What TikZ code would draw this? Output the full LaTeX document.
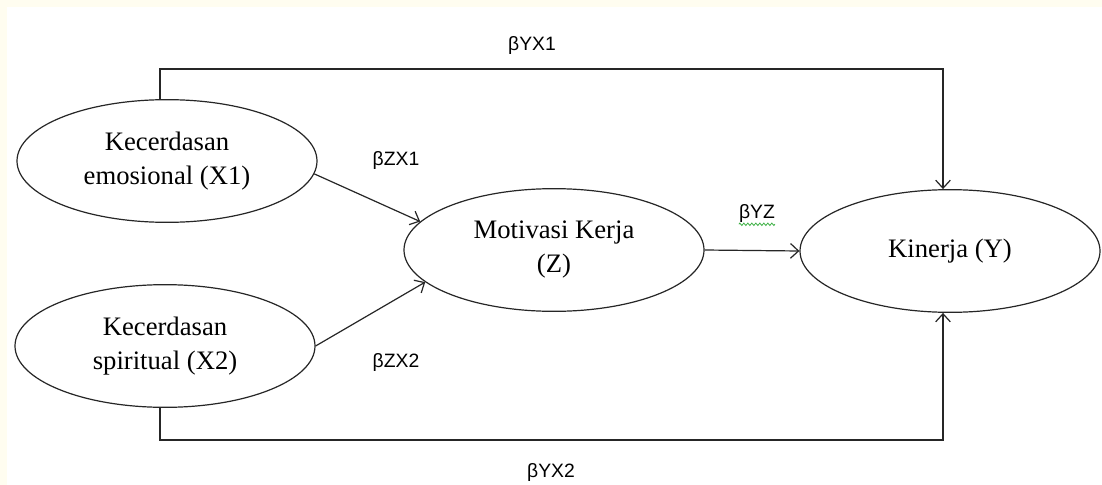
\documentclass[tikz,border=0pt]{standalone}
\usepackage{fontspec}
\setmainfont{Liberation Serif}
\newfontfamily\labelfont{Liberation Sans}
\usetikzlibrary{arrows.meta,decorations.pathmorphing,shapes.geometric}
\definecolor{cream}{HTML}{FFFDF0}
\definecolor{spell}{HTML}{3CB043}
\begin{document}
\begin{tikzpicture}[x=0.75pt,y=-0.75pt,
  var/.style={draw=black!85,line width=0.9pt,ellipse,minimum width=225pt,minimum height=92pt,
    inner sep=0pt,align=center,font=\fontsize{20}{25.5}\selectfont},
  link/.style={draw=black!85,line width=0.9pt},
  arr/.style={link,-{Straight Barb[length=6pt,width=11pt,line width=0.9pt]}},
  coef/.style={font=\labelfont\fontsize{14.5}{16}\selectfont,inner sep=0pt}]
\useasboundingbox (0,0) rectangle (1102,485);
\fill[white] (0,0) rectangle (1102,485);
% faint page edges
\fill[cream] (0,0) rectangle (1102,7);
\fill[cream] (0,0) rectangle (7,485);

% latent variables
\node[var] (x1) at (167,161) {Kecerdasan\\emosional (X1)};
\node[var] (x2) at (165,346) {Kecerdasan\\spiritual (X2)};
\node[var] (z)  at (554,250) {Motivasi Kerja\\(Z)};
\node[var] (y)  at (950,251) {Kinerja (Y)};

% routing corners of the direct paths
\coordinate (tl) at (160,69);
\coordinate (tr) at (943,69);
\coordinate (bl) at (160,440);
\coordinate (br) at (943,440);

% direct effects X -> Y
\draw[arr] (x1.north -| tl) -- (tl) -- (tr) -- (tr |- y.north);
\draw[arr] (x2.south -| bl) -- (bl) -- (br) -- (br |- y.south);

% mediated paths
\draw[arr] (x1.-5) -- (z.168);
\draw[arr] (x2.east) -- (z.-166);
\draw[arr] (z.east) -- (y.west);

% path coefficients
\node[coef] (byx1) at (532,46) {βYX1};
\node[coef] (bzx1) at (396,161) {βZX1};
\node[coef] (byz)  at (757,213) {βYZ};
\node[coef] (bzx2) at (396,362) {βZX2};
\node[coef] (byx2) at (551,472) {βYX2};
\draw[spell,line width=0.6pt,decorate,decoration={zigzag,amplitude=0.9pt,segment length=3pt}]
  ([yshift=-1.5pt]byz.south west) -- ([yshift=-1.5pt]byz.south east);
\end{tikzpicture}
\end{document}
